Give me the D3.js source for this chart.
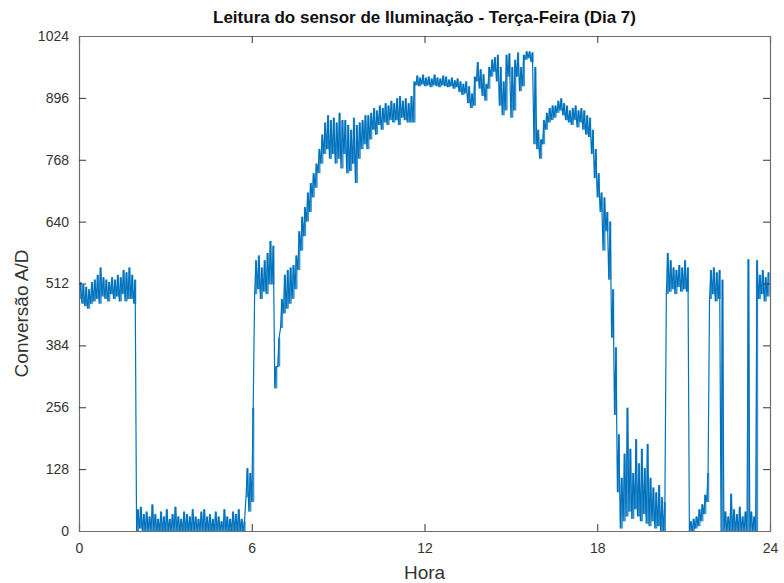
<!DOCTYPE html>
<html><head><meta charset="utf-8">
<script src="https://cdn.jsdelivr.net/npm/d3@7/dist/d3.min.js"></script>
<style>body{margin:0;background:#fff;} text{font-family:"Liberation Sans",Arial,sans-serif;}</style>
</head><body>
<svg id="chart" width="784" height="583"></svg>
<script>
// Time step of the readings (hours) and per-interval min / max readings
const stepHours = 0.1;
const lowVals = [
480,470,465,460,470,475,480,470,485,480, 475,490,480,485,475,490,475,480,480,470,
0,5,0,0,0,0,0,0,0,0, 0,0,0,0,0,0,0,0,0,0,
0,0,0,0,0,0,0,0,0,0, 0,0,0,0,0,0,0,0,70,40,
60,490,500,480,495,490,510,510,295,340, 420,450,460,470,480,500,540,580,610,640,
660,690,710,740,760,780,790,770,780,760, 770,750,780,740,745,760,720,770,790,800,
790,810,830,820,840,830,845,840,850,845, 850,840,855,850,845,845,845,922,920,924,
920,922,918,922,920,918,922,920,918,920, 915,918,908,902,905,885,875,880,930,915,
900,890,915,940,950,930,880,860,870,940, 855,870,940,910,920,975,978,970,800,790,
770,800,830,845,850,855,865,870,860,850, 845,840,850,835,845,830,820,815,780,730,
690,660,580,620,520,400,240,80,5,20, 30,40,25,45,30,20,35,15,10,20,
5,10,0,0,490,495,500,490,505,495, 500,495,0,0,5,10,20,35,60,480,
490,475,480,0,0,0,0,0,0,0, 0,0,0,0,0,0,480,490,475,485
];
const highVals = [
515,510,505,500,515,520,530,545,525,520, 515,525,520,530,525,540,535,545,530,520,
45,50,35,40,30,55,35,25,40,30, 45,25,35,50,30,25,40,35,30,45,
30,25,40,45,30,35,25,40,30,20, 45,30,25,40,35,45,25,20,130,120,
255,560,570,545,560,575,600,590,340,400, 480,530,540,545,550,570,620,650,670,700,
720,740,760,790,820,845,860,850,855,845, 865,850,850,840,830,855,840,845,850,860,
860,865,875,870,880,875,885,880,890,885, 895,900,890,895,885,900,930,942,938,944,
938,940,936,944,938,936,942,940,934,938, 932,936,930,925,930,920,905,940,970,955,
945,925,960,975,980,985,960,930,985,988, 960,975,990,960,985,992,992,990,960,830,
810,850,865,875,880,880,890,895,885,880, 870,875,880,870,875,870,860,855,830,790,
740,700,690,660,640,500,380,200,110,160, 255,170,120,190,140,170,130,180,110,90,
80,95,70,60,575,560,545,540,550,545, 560,545,20,25,30,45,55,75,120,540,
545,535,540,520,40,30,77,45,35,50, 30,40,562,40,30,560,530,540,525,535
];
const xTicks = [0, 6, 12, 18, 24];
const yTicks = [0, 128, 256, 384, 512, 640, 768, 896, 1024];
const titleText = "Leitura do sensor de Iluminação - Terça-Feira (Dia 7)";
const xLabel = "Hora";
const yLabel = "Conversão A/D";

const m = {left: 79, right: 770, top: 36, bottom: 531};
const svg = d3.select("#chart");
const x = d3.scaleLinear().domain([0, 24]).range([m.left, m.right]);
const y = d3.scaleLinear().domain([0, 1024]).range([m.bottom, m.top]);

const intervals = lowVals.map((lo, i) => ({t: i * stepHours, lo, hi: highVals[i]}));
// line points: each interval contributes its min then its max
const pts = [];
intervals.forEach(d => { pts.push([d.t, d.lo]); pts.push([d.t + stepHours / 2, d.hi]); });

svg.append("clipPath").attr("id", "clip").append("rect")
  .attr("x", m.left).attr("y", m.top).attr("width", m.right - m.left).attr("height", m.bottom - m.top);

const plot = svg.append("g").attr("clip-path", "url(#clip)");
// dense-reading envelope
plot.selectAll("rect.band").data(intervals).join("rect").attr("class", "band")
  .attr("x", d => x(d.t) + 0.3)
  .attr("width", x(stepHours) - x(0) - 0.6)
  .attr("y", d => y(Math.max(d.lo, d.hi)))
  .attr("height", d => Math.abs(y(d.lo) - y(d.hi)))
  .attr("fill", "#0072BD").attr("opacity", 0.75);
plot.append("path").datum(pts)
  .attr("fill", "none").attr("stroke", "#0072BD").attr("stroke-width", 1.2)
  .attr("d", d3.line().x(d => x(d[0])).y(d => y(d[1])));

const axisColor = "#6e6e6e";
const tl = 7;
const gx = svg.append("g").attr("transform", `translate(0,${m.bottom})`)
  .call(d3.axisBottom(x).tickValues(xTicks).tickSize(-tl).tickPadding(12).tickFormat(d3.format("d")));
const gxTop = svg.append("g").attr("transform", `translate(0,${m.top})`)
  .call(d3.axisTop(x).tickValues(xTicks).tickSize(-tl).tickFormat(""));
const gy = svg.append("g").attr("transform", `translate(${m.left},0)`)
  .call(d3.axisLeft(y).tickValues(yTicks).tickSize(-tl).tickPadding(10).tickFormat(d3.format("d")));
const gyR = svg.append("g").attr("transform", `translate(${m.right},0)`)
  .call(d3.axisRight(y).tickValues(yTicks).tickSize(-tl).tickFormat(""));
[gx, gxTop, gy, gyR].forEach(g => {
  g.select(".domain").attr("stroke", axisColor).attr("stroke-width", 1.2);
  g.selectAll(".tick line").attr("stroke", "#333").attr("stroke-width", 1);
  g.selectAll(".tick text").attr("fill", "#333").attr("font-size", 14)
    .attr("font-family", "'Liberation Sans', Arial, sans-serif");
});
gx.selectAll(".tick line").filter(d => d === 0 || d === 24).remove();
gxTop.selectAll(".tick line").filter(d => d === 0 || d === 24).remove();
gy.selectAll(".tick line").filter(d => d === 0 || d === 1024).remove();
gyR.selectAll(".tick line").filter(d => d === 0 || d === 1024).remove();

svg.append("text").attr("x", (m.left + m.right) / 2).attr("y", 23)
  .attr("text-anchor", "middle").attr("font-size", 17).attr("font-weight", "bold")
  .attr("fill", "#111").text(titleText);
svg.append("text").attr("x", (m.left + m.right) / 2).attr("y", 579)
  .attr("text-anchor", "middle").attr("font-size", 19).attr("fill", "#333").text(xLabel);
svg.append("text").attr("transform", `translate(28,${(m.top + m.bottom) / 2 + 30}) rotate(-90)`)
  .attr("text-anchor", "middle").attr("font-size", 19).attr("fill", "#333").text(yLabel);
</script>
</body></html>
